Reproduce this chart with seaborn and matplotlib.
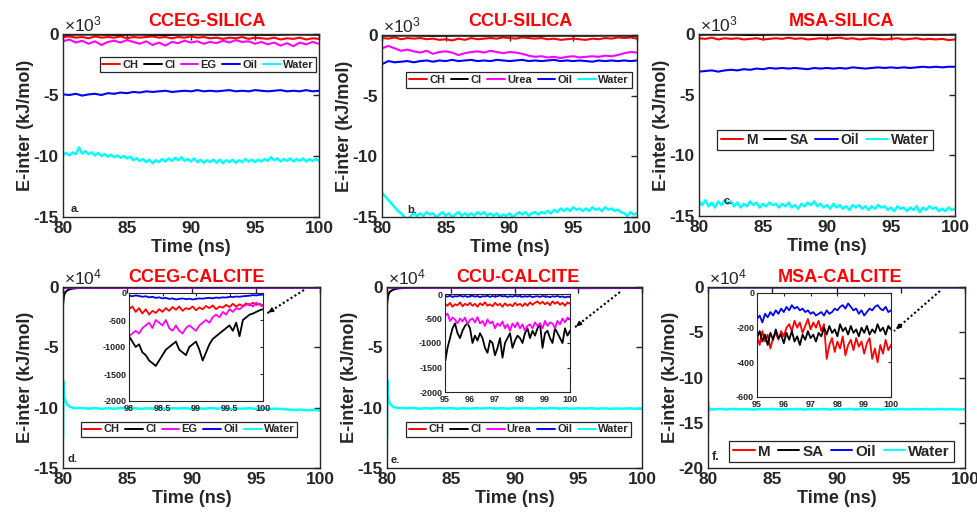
import numpy as np
import matplotlib
matplotlib.use("Agg")
import matplotlib.pyplot as plt
import seaborn as sns
from matplotlib.lines import Line2D
from matplotlib.ticker import FuncFormatter

# ---------------------------------------------------------------- data (kJ/mol)
# (a) CCEG-SILICA, 80-100 ns
a_ch = [-250, -200, -300, -250, -350, -200, -300, -250, -300, -200, -350, -250, -300, -250,
        -200, -300, -250, -350, -250, -300, -200, -300, -250, -350, -300, -400, -300, -350,
        -250, -400, -300, -350, -400, -300, -450, -350, -400, -300, -450, -350, -400]
a_cl = [-60, -40, -70, -50, -80, -40, -60, -50, -70, -40, -60]
a_eg = [-600, -450, -700, -550, -800, -600, -900, -650, -550, -700, -500, -650, -800, -600,
        -900, -700, -950, -650, -750, -550, -700, -600, -800, -650, -750, -550, -700, -500,
        -650, -600, -800, -650, -850, -700, -950, -750, -1000, -700, -850, -650, -800]
a_oil = [-4950, -5000, -4900, -5050, -4950, -4900, -5000, -4850, -4900, -4800, -4850, -4750,
         -4800, -4700, -4750, -4700, -4650, -4750, -4700, -4650, -4700, -4600, -4700, -4650,
         -4700, -4650, -4600, -4700, -4650, -4700, -4600, -4650, -4700, -4650, -4600, -4700,
         -4650, -4700, -4600, -4700, -4650]
a_water = [-9900, -9750, -9950, -9700, -9850, -9300, -9800, -9600, -9850, -9700, -9950, -9750,
           -10000, -9850, -10050, -9900, -10100, -9950, -10150, -10000, -10200, -10050, -10350,
           -10200, -10400, -10250, -10500, -10300, -10600, -10350, -10500, -10250, -10450,
           -10200, -10400, -10150, -10350, -10100, -10400, -10250, -10450, -10200, -10500,
           -10300, -10550, -10350, -10500, -10300, -10550, -10300, -10600, -10350, -10500,
           -10300, -10550, -10350, -10500, -10250, -10450, -10300, -10500, -10300, -10450,
           -10250, -10400, -10100, -10350, -10200, -10450, -10250, -10400, -10200, -10450,
           -10250, -10400, -10200, -10450, -10250, -10400, -10250, -10400]

# (b) CCU-SILICA
b_ch = [-250, -300, -200, -350, -250, -300, -250, -350, -300, -400, -350, -450, -300, -400,
        -250, -350, -300, -250, -300, -200, -250, -300, -200, -250, -300, -250, -350, -300,
        -400, -350, -300, -350, -400, -300, -350, -250, -300, -200, -250, -200, -300]
b_cl = [-60, -40, -70, -50, -60, -40, -70, -50, -60, -40, -60]
b_urea = [-1100, -900, -1100, -1300, -1200, -1350, -1450, -1300, -1550, -1400, -1350, -1450,
          -1650, -1500, -1400, -1350, -1450, -1300, -1400, -1500, -1400, -1450, -1550, -1700,
          -1800, -1750, -1850, -1800, -1900, -1800, -1750, -1850, -1800, -1750, -1800, -1700,
          -1750, -1650, -1500, -1400, -1450]
b_oil = [-2400, -2150, -2250, -2200, -2150, -2250, -2150, -2100, -2200, -2100, -2150, -2050,
         -2150, -2100, -2050, -2150, -2100, -2150, -2050, -2100, -2150, -2100, -2050, -2150,
         -2100, -2150, -2100, -2050, -2150, -2100, -2150, -2100, -2150, -2200, -2100, -2150,
         -2100, -2150, -2100, -2150, -2100]
b_water = [-13000, -13300, -13600, -13900, -14200, -14500, -14700, -15000, -15300, -14900,
           -14700, -14900, -14700, -14900, -14600, -14800, -14700, -15000, -14800, -14600,
           -14900, -14700, -15000, -14800, -14600, -14900, -14700, -14900, -14700, -14900,
           -14600, -14800, -14600, -14900, -14700, -14900, -14700, -15000, -14800, -14900,
           -14700, -15000, -14800, -14600, -14800, -14600, -14900, -14700, -14600, -14800,
           -14600, -14700, -14500, -14700, -14400, -14600, -14300, -14500, -14300, -14500,
           -14200, -14400, -14300, -14500, -14300, -14500, -14200, -14400, -14300, -14500,
           -14200, -14400, -14300, -14500, -14400, -14600, -14700, -14900, -14600, -14800,
           -14700]

# (c) MSA-SILICA
c_m = [-350, -400, -300, -450, -350, -400, -350, -450, -400, -350, -450, -400, -350, -400,
       -300, -400, -350, -450, -400, -350, -400, -350, -300, -400, -350, -450, -400, -350,
       -400, -450, -400, -350, -450, -400, -350, -450, -400, -450, -400, -500, -450]
c_sa = [-60, -40, -80, -50, -60, -90, -50, -70, -40, -60, -50]
c_oil = [-3100, -3050, -3000, -3100, -3000, -2950, -3000, -2900, -2950, -2850, -2900, -2800,
         -2850, -2800, -2850, -2800, -2850, -2900, -2800, -2850, -2800, -2850, -2800, -2850,
         -2750, -2800, -2850, -2800, -2750, -2800, -2750, -2800, -2750, -2800, -2750, -2700,
         -2750, -2700, -2750, -2700, -2700]
c_water = [-13800, -14100, -13700, -14200, -13900, -14300, -13800, -14100, -13700, -14000,
           -13800, -14200, -13900, -14300, -14000, -14200, -13800, -14100, -13900, -14300,
           -14000, -14200, -13900, -14100, -14000, -14300, -14000, -14200, -13900, -14300,
           -14100, -14400, -14000, -14200, -13900, -14100, -13800, -14200, -14000, -14300,
           -14100, -14400, -14000, -14300, -14100, -14400, -14200, -14500, -14100, -14300,
           -14100, -14400, -14200, -14500, -14200, -14400, -14100, -14300, -14200, -14500,
           -14300, -14600, -14200, -14400, -14300, -14600, -14300, -14500, -14200, -14700,
           -14300, -14500, -14200, -14400, -14300, -14600, -14400, -14600, -14300, -14500,
           -14400]

# (d) CCEG-CALCITE
d_ch = [-300, -350, -300, -320, -250]
d_eg = [-700, -800, -600, -700, -250]
d_oil = [-80, -90, -100, -110, -30]
d_cl_t = [80.0, 80.05, 80.1, 80.2, 80.35, 80.5, 80.7, 81.0, 81.5, 82.0, 83.0, 85.0, 90.0, 95.0, 100.0]
d_cl = [-15000, -9000, -6000, -4000, -2800, -2000, -1400, -1000, -600, -400, -300, -250, -200, -300, -300]
d_water_head_t = [80.0, 80.02, 80.05, 80.1, 80.2, 80.35, 80.5, 80.75, 81.0]
d_water_head = [-125000, -78000, -86000, -91000, -95000, -97500, -99000, -100000, -100500]
d_water_tail = [-100200, -100800, -100300, -101000, -100400, -100900, -100200, -100700, -100300,
                -101000, -100500, -100800, -100200, -100900, -100400, -100700, -100300, -101000,
                -100500, -100900, -100300, -100800, -100400, -101100, -100600, -100900, -100400,
                -101000, -100700, -101200, -100800, -101100, -101500, -101900, -101600, -102200,
                -101800, -102300]
# inset, 98-100 ns
di_ch = [-300, -250, -350, -280, -380, -300, -400, -330, -370, -300, -350, -280, -330, -260,
         -310, -250, -330, -280, -300, -250, -320, -270, -300, -240, -280, -230, -300, -250,
         -270, -220, -260, -200, -250, -210, -240, -190, -230, -180, -220, -200, -230]
di_cl = [-800, -900, -1000, -950, -1100, -1150, -1250, -1300, -1350, -1250, -1150, -1050,
         -1000, -950, -900, -1050, -1100, -1150, -1000, -950, -900, -1050, -1250, -1100, -950,
         -850, -800, -750, -700, -650, -600, -700, -550, -800, -500, -450, -400, -380, -350,
         -320, -300]
di_eg = [-800, -750, -700, -750, -650, -600, -550, -650, -500, -550, -600, -500, -650, -700,
         -600, -700, -750, -650, -600, -650, -700, -600, -550, -500, -550, -450, -400, -450,
         -350, -400, -300, -350, -280, -300, -250, -220, -200, -250, -180, -220, -250]
di_oil = [-50, -60, -45, -55, -70, -60, -80, -70, -90, -80, -100, -90, -110, -100, -120, -110,
          -100, -115, -105, -120, -110, -100, -105, -95, -90, -100, -85, -90, -80, -85, -70,
          -75, -65, -70, -60, -55, -50, -40, -45, -35, -30]

# (e) CCU-CALCITE
e_ch = [-220, -230, -210, -240, -200]
e_urea = [-500, -550, -600, -650, -520]
e_oil = [-50, -45, -55, -50, -60]
e_cl_t = [80.0, 80.05, 80.1, 80.2, 80.35, 80.5, 80.7, 81.0, 81.5, 82.0, 83.0, 85.0, 90.0, 95.0, 100.0]
e_cl = [-15000, -9500, -6500, -4300, -3000, -2100, -1500, -1000, -700, -500, -350, -300, -250, -900, -800]
e_water_head_t = [80.0, 80.02, 80.05, 80.1, 80.2, 80.35, 80.5, 80.75, 81.0]
e_water_head = [-125000, -77000, -86000, -92000, -96000, -98000, -99500, -100000, -100300]
e_water_tail = [-100600, -100200, -100900, -100400, -100800, -100200, -100700, -100300, -100900,
                -100400, -100800, -100300, -100700, -100200, -100800, -100400, -100900, -100300,
                -100700, -100400, -100800, -100300, -100700, -100200, -100800, -100400, -100900,
                -100500, -100800, -100400, -100900, -100500, -101000, -100600, -100900, -100500,
                -101000, -100800]
# inset, 95-100 ns
ei_ch = [-200, -240, -180, -260, -210, -230, -170, -250, -200, -230, -180, -240, -200, -260,
         -190, -230, -170, -240, -210, -250, -180, -230, -200, -260, -190, -240, -210, -250,
         -180, -230, -200, -250, -190, -240, -170, -220, -180, -150, -200, -160, -210, -170,
         -230, -150, -200, -160, -220, -180, -240, -170, -200]
ei_cl = [-1400, -1100, -900, -700, -600, -800, -900, -750, -650, -600, -700, -1000, -850, -950,
         -800, -900, -1100, -1200, -950, -1000, -1250, -1100, -900, -1300, -1000, -900, -800,
         -1100, -950, -850, -900, -1000, -800, -700, -900, -750, -850, -700, -600, -1100, -800,
         -750, -900, -1000, -700, -800, -900, -1000, -700, -850, -750]
ei_urea = [-450, -400, -550, -480, -520, -600, -500, -560, -480, -620, -530, -500, -580, -470,
           -600, -550, -650, -520, -600, -560, -700, -600, -650, -560, -700, -620, -750, -600,
           -680, -580, -700, -620, -750, -650, -620, -700, -580, -650, -600, -700, -550, -650,
           -580, -600, -700, -550, -620, -500, -580, -480, -520]
ei_oil = [-40, -55, -35, -60, -45, -50, -30, -55, -40, -60, -45, -35, -55, -40, -65, -45, -50,
          -35, -60, -40, -55, -45, -30, -50, -40, -60, -45, -55, -35, -50, -40, -60, -45, -55,
          -40, -65, -50, -45, -60, -40, -55, -50, -65, -45, -55, -40, -60, -50, -70, -55, -60]

# (f) MSA-CALCITE
f_m = [-250, -200, -180, -300, -300]
f_sa = [-250, -260, -240, -200, -210]
f_oil = [-150, -100, -110, -90, -100]
f_water_head_t = [80.0, 80.01, 80.02, 80.04, 80.08, 80.15, 80.3, 80.5]
f_water_head = [-162000, -127000, -138000, -133000, -136000, -134500, -135500, -135000]
f_water_tail = [-134800, -135300, -134700, -135200, -134900, -135400, -134800, -135100, -134700,
                -135300, -134900, -135200, -134700, -135400, -134900, -135200, -134800, -135300,
                -134900, -135100, -134700, -135300, -134800, -135200, -134900, -135400, -134800,
                -135200, -134700, -135300, -134900, -135200, -134800, -135300, -134700, -135200,
                -134900, -135300, -135000]
# inset, 95-100 ns
fi_m = [-250, -300, -220, -280, -240, -320, -260, -230, -270, -220, -250, -200, -180, -220,
        -160, -200, -170, -230, -190, -150, -210, -170, -200, -160, -220, -180, -380, -300,
        -260, -340, -280, -320, -250, -360, -300, -270, -330, -260, -310, -280, -350, -290,
        -260, -380, -320, -400, -300, -350, -270, -330, -300]
fi_sa = [-260, -220, -280, -240, -300, -230, -270, -210, -260, -240, -290, -230, -270, -220,
         -280, -250, -300, -240, -270, -220, -260, -240, -280, -230, -250, -200, -240, -190,
         -230, -210, -250, -180, -220, -200, -240, -190, -230, -210, -250, -200, -230, -190,
         -240, -210, -230, -180, -220, -200, -240, -190, -210]
fi_oil = [-150, -130, -170, -120, -140, -110, -130, -100, -120, -90, -110, -80, -100, -70, -90,
          -80, -100, -90, -110, -100, -120, -110, -130, -120, -110, -130, -100, -120, -110, -90,
          -100, -80, -70, -90, -60, -80, -100, -90, -120, -100, -130, -110, -90, -100, -80, -70,
          -90, -100, -80, -110, -100]

labels_cceg = ["CH", "Cl", "EG", "Oil", "Water"]
labels_ccu = ["CH", "Cl", "Urea", "Oil", "Water"]
labels_msa = ["M", "SA", "Oil", "Water"]

RED, BLACK, MAGENTA, BLUE, CYAN = "#ff0000", "#000000", "#ff00ff", "#0000ff", "#00ffff"

# ---------------------------------------------------------------- style
sns.set_style("white")
plt.rcParams.update({
    "font.family": ["Liberation Sans", "DejaVu Sans"],
    "font.weight": "bold",
    "axes.labelweight": "bold",
    "mathtext.fontset": "custom",
    "mathtext.rm": "Liberation Sans",
})

W, H = 978, 516
fig = plt.figure(figsize=(W / 100, H / 100), dpi=100)
fig.patch.set_facecolor("white")


def box(x0, y0, x1, y1):
    """Figure-fraction rectangle from pixel corners (origin top-left)."""
    return [x0 / W, 1 - y1 / H, (x1 - x0) / W, (y1 - y0) / H]


def ts(vals, start=80.0, stop=100.0):
    return np.linspace(start, stop, len(vals))


def draw(ax, t, y, color, lw=1.5):
    sns.lineplot(x=np.asarray(t, float), y=np.asarray(y, float), ax=ax, color=color,
                 linewidth=lw, estimator=None, sort=False, legend=False)


def style_main(ax, ylim, yticks, scale, exp):
    ax.set_xlim(80, 100)
    ax.set_ylim(*ylim)
    ax.set_xticks([80, 85, 90, 95, 100])
    ax.set_yticks(yticks)
    ax.yaxis.set_major_formatter(FuncFormatter(lambda v, p: f"{v / scale:g}"))
    ax.tick_params(direction="in", top=True, right=True, length=4, width=1,
                   labelsize=12.5, pad=3, colors="#262626", labelcolor="#262626")
    for s in ax.spines.values():
        s.set_linewidth(1.0)
        s.set_color("#262626")
    ax.set_xlabel("Time (ns)", fontsize=13, fontweight="bold", labelpad=2, color="#262626")
    ax.set_ylabel("E-inter (kJ/mol)", fontsize=13, fontweight="bold", labelpad=0,
                  color="#262626")
    ax.text(0.005, 1.0, r"$\mathregular{\times10^{%d}}$" % exp, transform=ax.transAxes,
            ha="left", va="bottom", fontsize=12.5, fontweight="normal", color="#262626")
    for lab in ax.get_xticklabels() + ax.get_yticklabels():
        lab.set_fontweight("bold")


def style_inset(ax, xlim, xticks, ylim, yticks):
    ax.set_xlim(*xlim)
    ax.set_ylim(*ylim)
    ax.set_xticks(xticks)
    ax.set_yticks(yticks)
    ax.xaxis.set_major_formatter(FuncFormatter(lambda v, p: f"{v:g}"))
    ax.yaxis.set_major_formatter(FuncFormatter(lambda v, p: f"{v:g}"))
    ax.tick_params(direction="in", top=True, right=True, length=2, width=0.8,
                   labelsize=6.5, pad=2, colors="#262626", labelcolor="#262626")
    for s in ax.spines.values():
        s.set_linewidth(0.8)
        s.set_color("#262626")
    ax.set_xlabel("")
    ax.set_ylabel("")
    ax.set_facecolor("white")
    for lab in ax.get_xticklabels() + ax.get_yticklabels():
        lab.set_fontweight("bold")


def legend(ax, labels, colors, cx, cy, fs, hl=1.6):
    handles = [Line2D([], [], color=c, lw=1.4) for c in colors]
    leg = ax.legend(handles, labels, ncol=len(labels), loc="center",
                    bbox_to_anchor=(cx / W, 1 - cy / H), bbox_transform=fig.transFigure,
                    prop={"weight": "bold", "size": fs}, frameon=True, fancybox=False,
                    edgecolor="#262626", framealpha=1, handlelength=hl, handletextpad=0.2,
                    columnspacing=0.5, borderpad=0.25, borderaxespad=0)
    leg.get_frame().set_linewidth(0.9)
    leg.set_zorder(10)


def title(x, y, s):
    fig.text(x / W, 1 - y / H, s, color="#ff0000", fontsize=13, fontweight="bold",
             ha="center", va="center", family=["Liberation Sans Narrow", "Liberation Sans"])


def tag(x, y, s, fs=8):
    fig.text(x / W, 1 - y / H, s, fontsize=fs, fontweight="bold", ha="left", va="center")


def pointer(x0, y0, x1, y1):
    p0 = (x0 / W, 1 - y0 / H)
    p1 = (x1 / W, 1 - y1 / H)
    fig.add_artist(Line2D([p0[0], p1[0]], [p0[1], p1[1]], transform=fig.transFigure,
                          color="black", lw=1.5, linestyle=(0, (1, 1.2))))
    fig.add_artist(matplotlib.patches.FancyArrowPatch(
        (p0[0] + (p1[0] - p0[0]) * 0.8, p0[1] + (p1[1] - p0[1]) * 0.8), p1,
        transform=fig.transFigure, arrowstyle="-|>", mutation_scale=7, color="black", lw=1))


top_ticks = [-15000, -10000, -5000, 0]

# ---------------------------------------------------------------- (a)
ax = fig.add_axes(box(63, 34, 319, 217))
draw(ax, ts(a_ch), a_ch, RED)
draw(ax, ts(a_cl), a_cl, BLACK)
draw(ax, ts(a_eg), a_eg, MAGENTA)
draw(ax, ts(a_oil), a_oil, BLUE)
draw(ax, ts(a_water), a_water, CYAN, 1.8)
style_main(ax, (-15000, 0), top_ticks, 1e3, 3)
legend(ax, labels_cceg, [RED, BLACK, MAGENTA, BLUE, CYAN], 208, 64.5, 8)
title(207, 22, "CCEG-SILICA")
tag(71, 209, "a.")

# ---------------------------------------------------------------- (b)
ax = fig.add_axes(box(382, 35, 637, 217))
draw(ax, ts(b_ch), b_ch, RED)
draw(ax, ts(b_cl), b_cl, BLACK)
draw(ax, ts(b_urea), b_urea, MAGENTA)
draw(ax, ts(b_oil), b_oil, BLUE)
draw(ax, ts(b_water), b_water, CYAN, 1.8)
style_main(ax, (-15000, 0), top_ticks, 1e3, 3)
legend(ax, labels_ccu, [RED, BLACK, MAGENTA, BLUE, CYAN], 519, 80, 8)
title(520, 22, "CCU-SILICA")
tag(407, 210, "b.")

# ---------------------------------------------------------------- (c)
ax = fig.add_axes(box(699, 34, 955, 216))
draw(ax, ts(c_m), c_m, RED)
draw(ax, ts(c_sa), c_sa, BLACK)
draw(ax, ts(c_oil), c_oil, BLUE)
draw(ax, ts(c_water), c_water, CYAN, 1.8)
style_main(ax, (-15000, 0), top_ticks, 1e3, 3)
legend(ax, labels_msa, [RED, BLACK, BLUE, CYAN], 825, 140, 10)
title(842, 22, "MSA-SILICA")
tag(724, 201, "c.")

# ---------------------------------------------------------------- (d)
ax = fig.add_axes(box(63, 287, 320, 468))
draw(ax, ts(d_ch), d_ch, RED)
draw(ax, d_cl_t, d_cl, BLACK)
draw(ax, ts(d_eg), d_eg, MAGENTA)
draw(ax, ts(d_oil), d_oil, BLUE, 1.8)
draw(ax, list(d_water_head_t) + list(ts(d_water_tail, 81.5)), d_water_head + d_water_tail, CYAN, 1.8)
style_main(ax, (-150000, 0), [-150000, -100000, -50000, 0], 1e4, 4)
legend(ax, labels_cceg, [RED, BLACK, MAGENTA, BLUE, CYAN], 189, 429.5, 8)
title(197, 277, "CCEG-CALCITE")
tag(68, 459, "d.")

ins = fig.add_axes(box(129, 293, 263, 401))
draw(ins, ts(di_ch, 98), di_ch, RED, 1.3)
draw(ins, ts(di_cl, 98), di_cl, BLACK, 1.3)
draw(ins, ts(di_eg, 98), di_eg, MAGENTA, 1.3)
draw(ins, ts(di_oil, 98), di_oil, BLUE, 1.3)
style_inset(ins, (98, 100), [98, 98.5, 99, 99.5, 100], (-2000, 0), [-2000, -1500, -1000, -500, 0])
pointer(304, 290, 266, 314)

# ---------------------------------------------------------------- (e)
ax = fig.add_axes(box(387, 287, 642, 468))
draw(ax, ts(e_ch), e_ch, RED)
draw(ax, e_cl_t, e_cl, BLACK)
draw(ax, ts(e_urea), e_urea, MAGENTA)
draw(ax, ts(e_oil), e_oil, BLUE, 1.8)
draw(ax, list(e_water_head_t) + list(ts(e_water_tail, 81.5)), e_water_head + e_water_tail, CYAN, 1.8)
style_main(ax, (-150000, 0), [-150000, -100000, -50000, 0], 1e4, 4)
legend(ax, labels_ccu, [RED, BLACK, MAGENTA, BLUE, CYAN], 518.5, 429.5, 8)
title(518, 277, "CCU-CALCITE")
tag(391, 460, "e.")

ins = fig.add_axes(box(445, 294, 570, 392))
draw(ins, ts(ei_ch, 95), ei_ch, RED, 1.3)
draw(ins, ts(ei_cl, 95), ei_cl, BLACK, 1.3)
draw(ins, ts(ei_urea, 95), ei_urea, MAGENTA, 1.3)
draw(ins, ts(ei_oil, 95), ei_oil, BLUE, 1.3)
style_inset(ins, (95, 100), [95, 96, 97, 98, 99, 100], (-2000, 0), [-2000, -1500, -1000, -500, 0])
pointer(620, 292, 574, 328)

# ---------------------------------------------------------------- (f)
ax = fig.add_axes(box(708, 287, 965, 468))
draw(ax, ts(f_m), f_m, RED)
draw(ax, ts(f_sa), f_sa, BLACK)
draw(ax, ts(f_oil), f_oil, BLUE, 1.8)
draw(ax, list(f_water_head_t) + list(ts(f_water_tail, 81.0)), f_water_head + f_water_tail, CYAN, 1.8)
style_main(ax, (-200000, 0), [-200000, -150000, -100000, -50000, 0], 1e4, 4)
legend(ax, labels_msa, [RED, BLACK, BLUE, CYAN], 841.5, 451.5, 11, hl=1.4)
title(840, 277, "MSA-CALCITE")
tag(712, 457, "f.", 9)

ins = fig.add_axes(box(757, 293, 891, 397))
draw(ins, ts(fi_m, 95), fi_m, RED, 1.3)
draw(ins, ts(fi_sa, 95), fi_sa, BLACK, 1.3)
draw(ins, ts(fi_oil, 95), fi_oil, BLUE, 1.3)
style_inset(ins, (95, 100), [95, 96, 97, 98, 99, 100], (-600, 0), [-600, -400, -200, 0])
pointer(940, 291, 894, 331)

fig.savefig("out.png", dpi=100, facecolor="white")
